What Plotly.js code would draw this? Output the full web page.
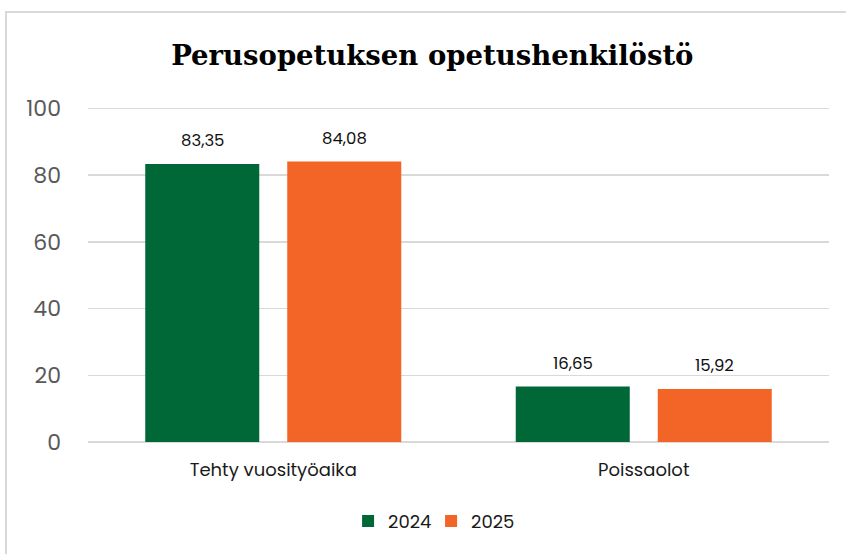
<!DOCTYPE html>
<html><head><meta charset="utf-8">
<script src="https://cdn.plot.ly/plotly-3.0.1.min.js"></script>
<style>
html,body{margin:0;padding:0;background:#fff;}
#wrap{position:absolute;left:0;top:0;width:846px;height:554px;}
#frame{position:absolute;left:5px;top:11px;width:860px;height:560px;border-left:2px solid #d9d9d9;border-top:2px solid #d9d9d9;pointer-events:none;}
#chart{position:absolute;left:0;top:0;width:846px;height:554px;}
</style></head>
<body>
<div id="wrap"><div id="chart"></div><div id="frame"></div></div>
<script>
const categories = ["Tehty vuosityöaika", "Poissaolot"];
const seriesNames = ["2024", "2025"];
const values2024 = [83.35, 16.65];
const values2025 = [84.08, 15.92];
const yTicks = [0, 20, 40, 60, 80, 100];
const colors = ["#006837", "#F26526"];
const FONT = 'Poppins, Inter, "Noto Sans", sans-serif';

const W = 846, H = 554;
const margin = {l: 88, r: 17, t: 105, b: 112};
const BARGAP = 0.2335, GROUPGAP = 0.197;

const series = [values2024, values2025];
const traces = series.map((vals, i) => ({
  type: 'bar', x: categories, y: vals, name: seriesNames[i],
  marker: {color: colors[i]}, hoverinfo: 'none'
}));

// value labels placed above each bar via annotations, horizontal offset derived from the bar layout
const catPx = (W - margin.l - margin.r) / categories.length;
const slotPx = catPx * (1 - BARGAP) / series.length;
const fmt = v => v.toFixed(2).replace('.', ',');
const annotations = [];
series.forEach((vals, i) => {
  vals.forEach((v, j) => {
    annotations.push({
      x: categories[j], y: v, xref: 'x', yref: 'y',
      text: fmt(v), showarrow: false,
      xshift: (i - (series.length - 1) / 2) * slotPx,
      yshift: 23, yanchor: 'middle', xanchor: 'center',
      font: {family: FONT, size: 16.5, color: '#111'}
    });
  });
});

const layout = {
  width: W, height: H,
  paper_bgcolor: '#fff', plot_bgcolor: '#fff',
  separators: ', ',
  margin: margin,
  title: {
    text: '<b>Perusopetuksen opetushenkilöstö</b>',
    font: {family: '"Roboto Slab", "DejaVu Serif", serif', size: 27.5, color: '#000'},
    x: 0.511, xanchor: 'center', xref: 'container', y: 0.9, yref: 'container', yanchor: 'middle'
  },
  barmode: 'group',
  bargap: BARGAP,
  bargroupgap: GROUPGAP,
  xaxis: {
    showgrid: false, showline: false, zeroline: false,
    ticks: '', ticklen: 0,
    ticklabelstandoff: 15,
    tickfont: {family: FONT, size: 18, color: '#1a1a1a'}
  },
  yaxis: {
    range: [0, 101],
    tickvals: yTicks,
    showgrid: true, gridcolor: '#d9d9d9', gridwidth: 1.5,
    zeroline: true, zerolinecolor: '#d9d9d9', zerolinewidth: 2,
    showline: false, ticks: '',
    ticklabelstandoff: 26,
    tickfont: {family: FONT, size: 22, color: '#595959'}
  },
  legend: {
    orientation: 'h', x: 0.463, xanchor: 'center', y: -0.235, yanchor: 'middle',
    font: {family: FONT, size: 18, color: '#1a1a1a'},
    itemwidth: 30, entrywidth: 38, traceorder: 'normal'
  },
  annotations: annotations,
  showlegend: true
};

Plotly.newPlot('chart', traces, layout, {displayModeBar: false, staticPlot: true});
</script>
</body></html>
